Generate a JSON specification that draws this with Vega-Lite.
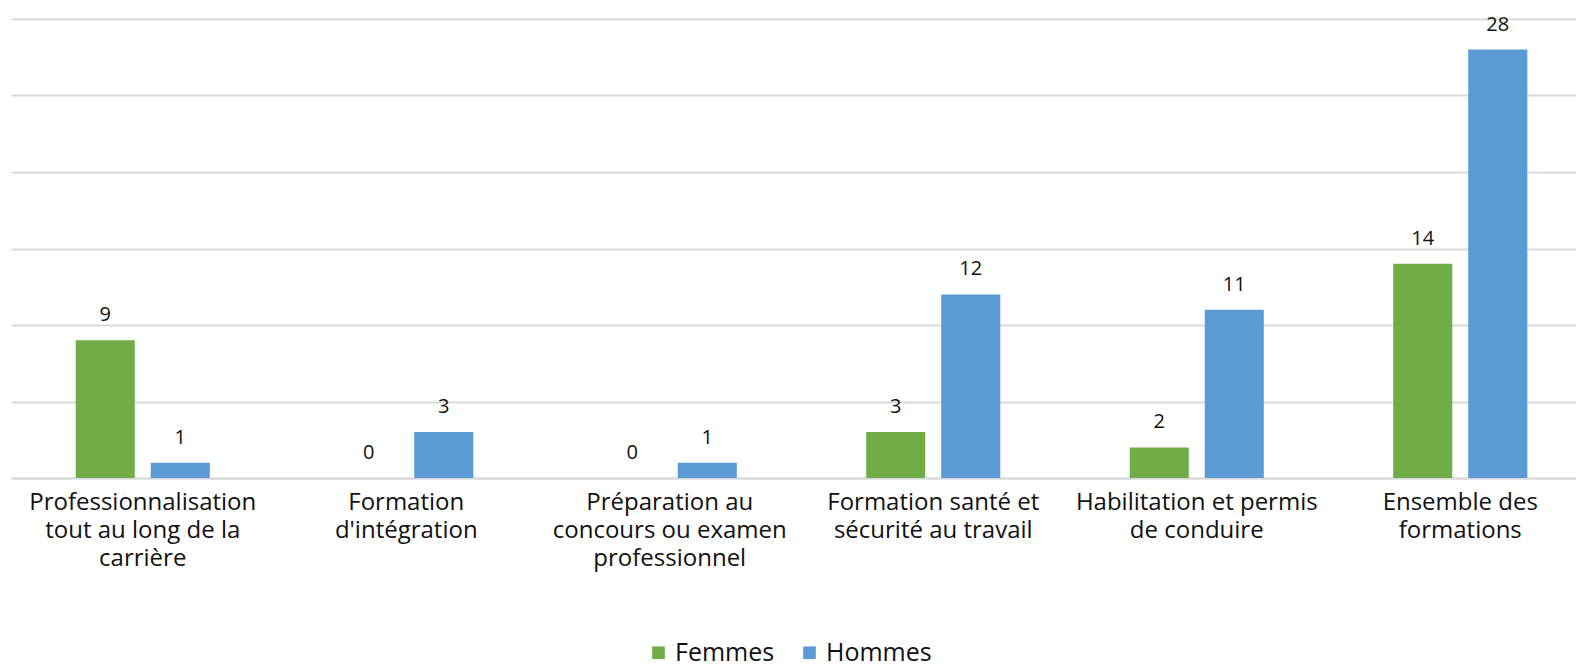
{
  "$schema": "https://vega.github.io/schema/vega-lite/v6.json",
  "width": 1581,
  "height": 459,
  "padding": {"left": 11, "top": 14, "right": 0, "bottom": 0},
  "background": "white",
  "config": {
    "view": {"stroke": null},
    "font": "Open Sans",
    "axis": {"labelFont": "Open Sans", "titleFont": "Open Sans"},
    "legend": {"labelFont": "Open Sans"}
  },
  "data": {
    "values": [
      {"categorie": "Professionnalisation\ntout au long de la\ncarrière", "sexe": "Femmes", "valeur": 9},
      {"categorie": "Professionnalisation\ntout au long de la\ncarrière", "sexe": "Hommes", "valeur": 1},
      {"categorie": "Formation\nd'intégration", "sexe": "Femmes", "valeur": 0},
      {"categorie": "Formation\nd'intégration", "sexe": "Hommes", "valeur": 3},
      {"categorie": "Préparation au\nconcours ou examen\nprofessionnel", "sexe": "Femmes", "valeur": 0},
      {"categorie": "Préparation au\nconcours ou examen\nprofessionnel", "sexe": "Hommes", "valeur": 1},
      {"categorie": "Formation santé et\nsécurité au travail", "sexe": "Femmes", "valeur": 3},
      {"categorie": "Formation santé et\nsécurité au travail", "sexe": "Hommes", "valeur": 12},
      {"categorie": "Habilitation et permis\nde conduire", "sexe": "Femmes", "valeur": 2},
      {"categorie": "Habilitation et permis\nde conduire", "sexe": "Hommes", "valeur": 11},
      {"categorie": "Ensemble des\nformations", "sexe": "Femmes", "valeur": 14},
      {"categorie": "Ensemble des\nformations", "sexe": "Hommes", "valeur": 28}
    ]
  },
  "encoding": {
    "x": {
      "field": "categorie",
      "type": "nominal",
      "sort": null,
      "scale": {"paddingInner": 0.491, "paddingOuter": 0.2455},
      "axis": {
        "title": null,
        "labelAngle": 0,
        "labelExpr": "split(datum.value, '\\n')",
        "labelFontSize": 24,
        "labelColor": "#111111",
        "labelPadding": 12,
        "labelLineHeight": 28,
        "labelLimit": 400,
        "ticks": false,
        "domainColor": "#d9d9d9",
        "domainWidth": 2
      }
    },
    "xOffset": {
      "field": "sexe",
      "type": "nominal",
      "scale": {"paddingInner": 0.213, "paddingOuter": 0}
    },
    "y": {
      "field": "valeur",
      "type": "quantitative",
      "scale": {"domain": [0, 30], "nice": false},
      "axis": {
        "title": null,
        "labels": false,
        "ticks": false,
        "domain": false,
        "values": [0, 5, 10, 15, 20, 25, 30],
        "gridColor": "#d9d9d9",
        "gridWidth": 2
      }
    }
  },
  "layer": [
    {
      "mark": {"type": "bar"},
      "encoding": {
        "color": {
          "field": "sexe",
          "type": "nominal",
          "scale": {"domain": ["Femmes", "Hommes"], "range": ["#70AD47", "#5B9BD5"]},
          "legend": {
            "title": null,
            "orient": "none",
            "legendX": 635,
            "legendY": 621,
            "direction": "horizontal",
            "padding": 0,
            "symbolType": "square",
            "symbolSize": 160,
            "symbolStrokeWidth": 0,
            "labelFontSize": 25,
            "labelColor": "#111111",
            "columnPadding": 22,
            "labelOffset": 4
          }
        }
      }
    },
    {
      "mark": {"type": "text", "baseline": "bottom", "dy": -15, "fontSize": 20, "color": "#111111"},
      "encoding": {
        "text": {"field": "valeur", "type": "quantitative"}
      }
    }
  ]
}
